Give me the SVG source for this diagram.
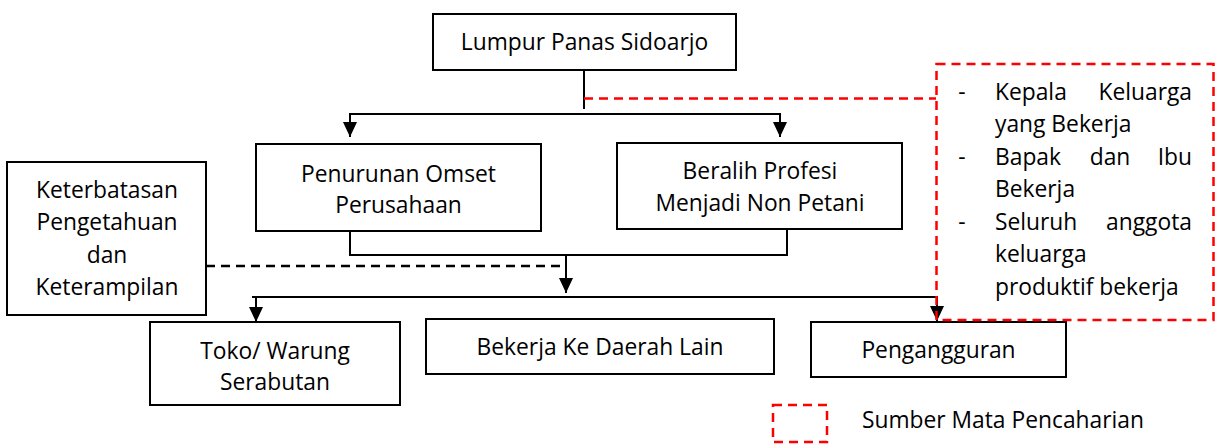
<svg xmlns="http://www.w3.org/2000/svg" width="1216" height="444" viewBox="0 0 1216 444">
<style>
.box{fill:#fff;stroke:#000;stroke-width:2}
.t{font-family:"Open Sans","Noto Sans","Liberation Sans",sans-serif;font-size:22.8px;fill:#000}
.c{text-anchor:middle}
.e{text-anchor:end}
.ln{fill:none;stroke:#000;stroke-width:2}
.dash{fill:none;stroke:#000;stroke-width:2.5;stroke-dasharray:9 6}
.red{fill:none;stroke:#ff0000;stroke-width:2.5;stroke-dasharray:9 6}
</style>
<defs>
<marker id="ah" markerUnits="userSpaceOnUse" markerWidth="16" markerHeight="16" viewBox="0 0 16 16" refX="15" refY="8" orient="auto">
<path d="M0,1 L15,8 L0,15 Z" fill="#000"/>
</marker>
</defs>
<rect width="1216" height="444" fill="#fff"/>
<g id="connectors">
<path class="ln" d="M584,71 V109"/>
<path class="ln" d="M350,114 H780"/>
<path class="ln" d="M350,113 V137" marker-end="url(#ah)"/>
<path class="ln" d="M780,113 V137" marker-end="url(#ah)"/>
<path class="red" d="M584,98.5 H936"/>
<path class="ln" d="M350,231 V255 H787 V229"/>
<path class="ln" d="M566,254 V293" marker-end="url(#ah)"/>
<path class="dash" d="M206,266 H566"/>
<path class="ln" d="M252,297 H937"/>
<path class="ln" d="M256,296 V322" marker-end="url(#ah)"/>
<path class="ln" d="M937,296 V321" marker-end="url(#ah)"/>
</g>
<g id="node-lumpur">
<rect class="box" x="433" y="14" width="303" height="56"/>
<text class="t c" x="584.5" y="50">Lumpur Panas Sidoarjo</text>
</g>
<g id="node-penurunan">
<rect class="box" x="256" y="144" width="285" height="87"/>
<text class="t c" x="398.5" y="182">Penurunan Omset</text>
<text class="t c" x="398.5" y="213">Perusahaan</text>
</g>
<g id="node-beralih">
<rect class="box" x="617" y="143" width="285" height="86"/>
<text class="t c" x="760" y="179">Beralih Profesi</text>
<text class="t c" x="760" y="211">Menjadi Non Petani</text>
</g>
<g id="node-keterbatasan">
<rect class="box" x="7" y="162" width="199" height="153"/>
<text class="t c" x="107" y="198">Keterbatasan</text>
<text class="t c" x="107" y="230">Pengetahuan</text>
<text class="t c" x="107" y="262.5">dan</text>
<text class="t c" x="107" y="295">Keterampilan</text>
</g>
<g id="node-toko">
<rect class="box" x="150" y="322" width="250" height="83"/>
<text class="t c" x="275" y="359">Toko/ Warung</text>
<text class="t c" x="275" y="390">Serabutan</text>
</g>
<g id="node-bekerja">
<rect class="box" x="426" y="319" width="348" height="55"/>
<text class="t c" x="600" y="355">Bekerja Ke Daerah Lain</text>
</g>
<g id="node-pengangguran">
<rect class="box" x="811" y="322" width="255" height="55"/>
<text class="t c" x="938.5" y="358">Pengangguran</text>
</g>
<g id="node-sumber">
<rect class="red" x="936.5" y="64" width="277" height="256"/>
<text class="t c" x="962" y="100">-</text>
<text class="t" x="995" y="100">Kepala</text>
<text class="t e" x="1192" y="100">Keluarga</text>
<text class="t" x="995" y="132">yang Bekerja</text>
<text class="t c" x="962" y="165">-</text>
<text class="t" x="995" y="165">Bapak</text>
<text class="t c" x="1110" y="165">dan</text>
<text class="t e" x="1192" y="165">Ibu</text>
<text class="t" x="995" y="197">Bekerja</text>
<text class="t c" x="962" y="230">-</text>
<text class="t" x="995" y="230">Seluruh</text>
<text class="t e" x="1192" y="230">anggota</text>
<text class="t" x="995" y="262">keluarga</text>
<text class="t" x="995" y="295">produktif bekerja</text>
</g>
<g id="legend">
<rect class="red" x="773" y="405" width="54" height="37"/>
<text class="t" x="862" y="428">Sumber Mata Pencaharian</text>
</g>
</svg>
